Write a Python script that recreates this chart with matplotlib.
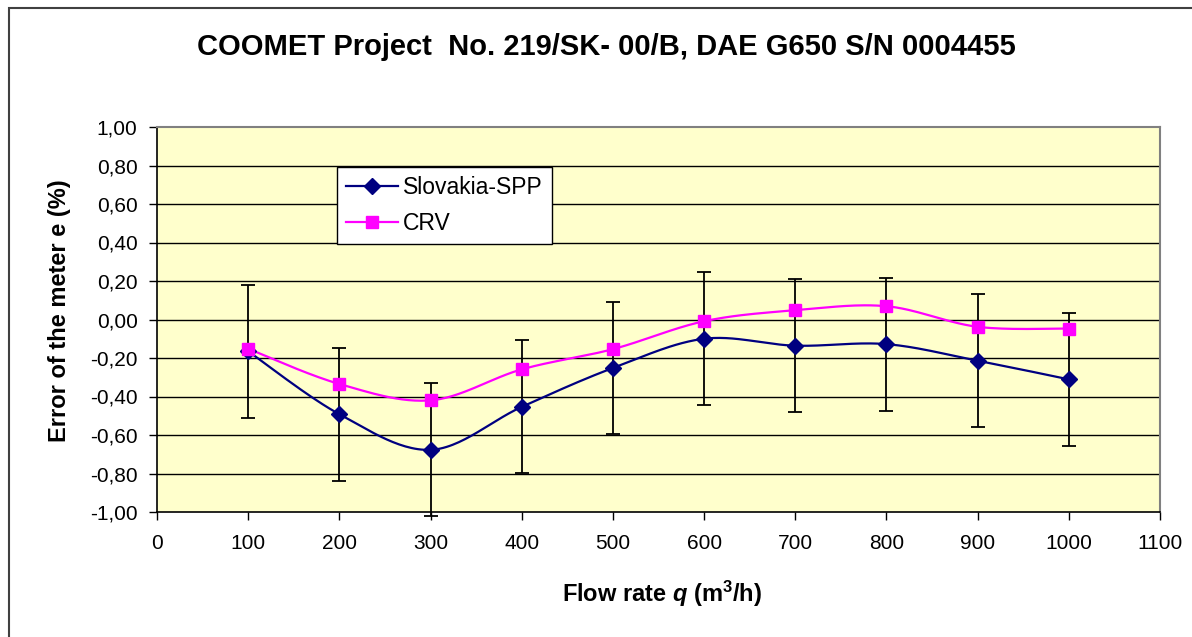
import numpy as np
import matplotlib
matplotlib.use("Agg")
import matplotlib.pyplot as plt
from matplotlib.patches import Rectangle
from matplotlib.lines import Line2D

flow = [100, 200, 300, 400, 500, 600, 700, 800, 900, 1000]
slovakia = [-0.165, -0.492, -0.677, -0.454, -0.252, -0.100, -0.136, -0.128, -0.214, -0.311]
crv = [-0.152, -0.335, -0.420, -0.259, -0.154, -0.009, 0.048, 0.069, -0.038, -0.047]
uncertainty = [0.345] * 10
yticks = [1.0, 0.8, 0.6, 0.4, 0.2, 0.0, -0.2, -0.4, -0.6, -0.8, -1.0]
ytick_labels = ["1,00", "0,80", "0,60", "0,40", "0,20", "0,00",
                "-0,20", "-0,40", "-0,60", "-0,80", "-1,00"]
xticks = list(range(0, 1101, 100))

plt.rcParams['font.family'] = ['Liberation Sans', 'DejaVu Sans']
plt.rcParams['mathtext.fontset'] = 'custom'
plt.rcParams['mathtext.rm'] = 'Liberation Sans'
plt.rcParams['mathtext.it'] = 'Liberation Sans:italic:bold'
plt.rcParams['mathtext.bf'] = 'Liberation Sans:bold'


def smooth(x, y, n=30):
    """Excel-like smoothed line (Catmull-Rom as cubic Bezier)."""
    x = np.asarray(x, float)
    y = np.asarray(y, float)
    px = np.concatenate([[x[0]], x, [x[-1]]])
    py = np.concatenate([[y[0]], y, [y[-1]]])
    xs, ys = [], []
    t = np.linspace(0, 1, n)
    for i in range(1, len(px) - 2):
        p0 = np.array([px[i], py[i]])
        p3 = np.array([px[i + 1], py[i + 1]])
        c1 = p0 + (np.array([px[i + 1], py[i + 1]]) - np.array([px[i - 1], py[i - 1]])) / 6
        c2 = p3 - (np.array([px[i + 2], py[i + 2]]) - np.array([px[i], py[i]])) / 6
        b = ((1 - t) ** 3)[:, None] * p0 + (3 * (1 - t) ** 2 * t)[:, None] * c1 \
            + (3 * (1 - t) * t ** 2)[:, None] * c2 + (t ** 3)[:, None] * p3
        xs.extend(b[:, 0])
        ys.extend(b[:, 1])
    return np.array(xs), np.array(ys)


W, H = 1192, 637
fig = plt.figure(figsize=(W / 100, H / 100), dpi=100)
fig.patches.append(Rectangle((8.5 / W, -0.1), 1.2, 1.1 - 7.5 / H,
                             transform=fig.transFigure, fill=False,
                             edgecolor='#404040', linewidth=1.5))

ax = fig.add_axes([157 / W, 1 - 512 / H, 1003 / W, 385 / H])
ax.set_facecolor('#FFFFCC')
ax.set_xlim(0, 1100)
ax.set_ylim(-1.0, 1.0)

for yv in yticks:
    if -1.0 < yv < 1.0:
        ax.axhline(yv, color='black', linewidth=1.0, zorder=1)

ax.errorbar(flow, slovakia, yerr=uncertainty, fmt='none', ecolor='black',
            elinewidth=1.3, capsize=4.8, capthick=1.3, zorder=2, clip_on=False)

sx, sy = smooth(flow, slovakia)
cx, cy = smooth(flow, crv)
ax.plot(sx, sy, color='#000080', linewidth=1.6, zorder=3)
ax.plot(flow, slovakia, linestyle='none', marker='D', markersize=8,
        color='#000080', zorder=4)
ax.plot(cx, cy, color='#FF00FF', linewidth=1.6, zorder=3)
ax.plot(flow, crv, linestyle='none', marker='s', markersize=8,
        color='#FF00FF', zorder=4)

ax.set_yticks(yticks)
ax.set_yticklabels(ytick_labels)
ax.set_xticks(xticks)
ax.tick_params(axis='both', direction='out', length=6, width=1,
               labelsize=15, colors='black')
ax.tick_params(axis='x', pad=10)
ax.tick_params(axis='y', pad=8)

for s in ['top', 'right']:
    ax.spines[s].set_color('#808080')
    ax.spines[s].set_linewidth(1.5)
for s in ['left', 'bottom']:
    ax.spines[s].set_color('black')
    ax.spines[s].set_linewidth(1.2)

ax.set_xlabel(r'Flow rate $\mathit{q}$ (m$^\mathbf{3}$/h)', fontsize=17,
              fontweight='bold')
ax.xaxis.set_label_coords((661.5 - 157) / 1003, (512 - 594) / 385)
ax.xaxis.label.set_va('center')
ax.set_ylabel('Error of the meter e (%)', fontsize=17, fontweight='bold')
ax.yaxis.set_label_coords((60 - 157) / 1003, (512 - 310.5) / 385)
ax.yaxis.label.set_va('center')

fig.text(606 / W, 1 - 47 / H,
         'COOMET Project  No. 219/SK- 00/B, DAE G650 S/N 0004455',
         ha='center', va='center', fontsize=21, fontweight='bold')

handles = [Line2D([0], [0], color='#000080', marker='D', markersize=8,
                  linewidth=1.6),
           Line2D([0], [0], color='#FF00FF', marker='s', markersize=8,
                  linewidth=1.6)]
leg = ax.legend(handles, ['Slovakia-SPP', 'CRV'], loc='upper left',
                bbox_to_anchor=((337 - 157) / 1003, (512 - 167) / 385),
                borderaxespad=0, fontsize=16.5, frameon=True, fancybox=False,
                framealpha=1, edgecolor='black', handlelength=2.27,
                borderpad=0.4, labelspacing=0.55, handletextpad=0.2)
leg.get_frame().set_linewidth(1.0)

fig.savefig('out.png', dpi=100)
